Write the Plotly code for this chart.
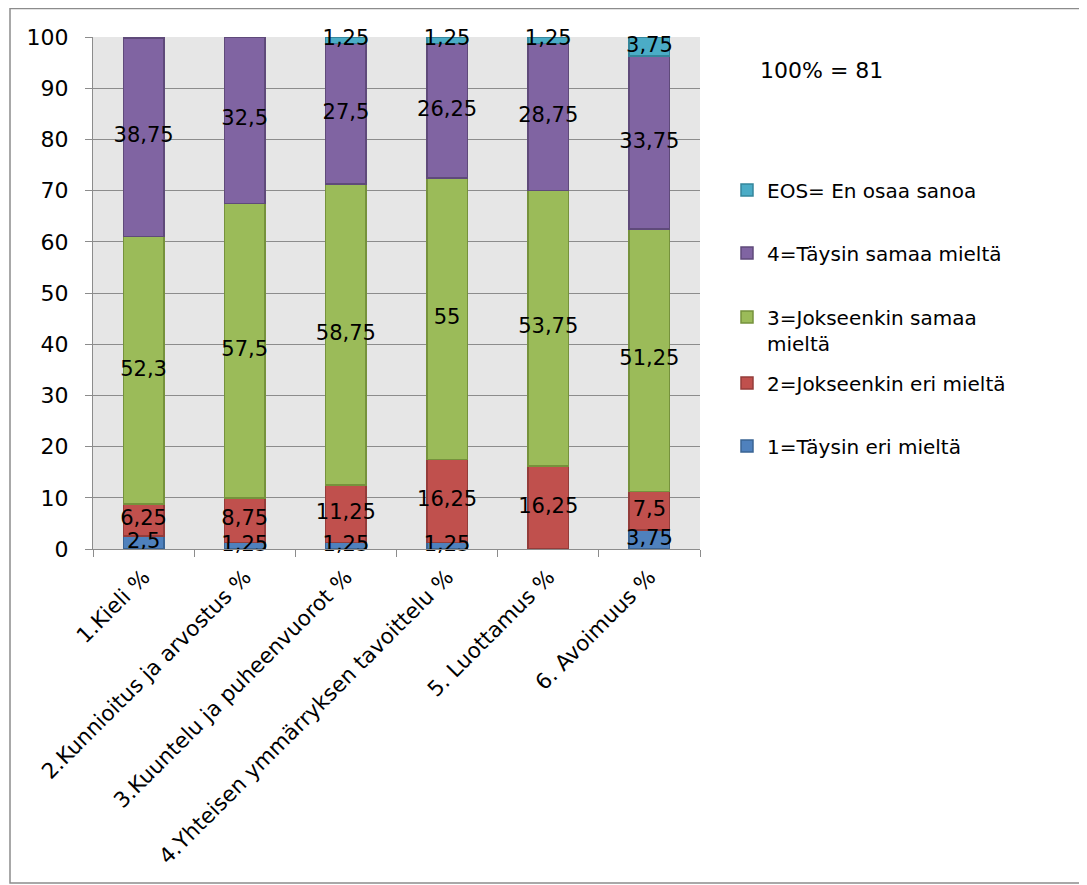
import plotly.graph_objects as go

categories = ["1.Kieli %", "2.Kunnioitus ja arvostus %", "3.Kuuntelu ja puheenvuorot %",
              "4.Yhteisen ymmärryksen tavoittelu %", "5. Luottamus %", "6. Avoimuus %"]
s1 = [2.5, 1.25, 1.25, 1.25, 0, 3.75]
s2 = [6.25, 8.75, 11.25, 16.25, 16.25, 7.5]
s3 = [52.3, 57.5, 58.75, 55, 53.75, 51.25]
s4 = [38.75, 32.5, 27.5, 26.25, 28.75, 33.75]
s5 = [0, 0, 1.25, 1.25, 1.25, 3.75]

series_names = ["1=Täysin eri mieltä", "2=Jokseenkin eri mieltä",
                "3=Jokseenkin samaa<br>mieltä", "4=Täysin samaa mieltä",
                "EOS= En osaa sanoa"]
series_values = [s1, s2, s3, s4, s5]
fill_colors = ["#4F81BD", "#C0504D", "#9BBB59", "#8064A2", "#4BACC6"]
line_colors = ["#3A6494", "#943C3A", "#76923C", "#5F4A7A", "#35869C"]

FONT = "DejaVu Sans"
W, H = 1079, 877          # page body has an 8px margin
L, T, PW, PH = 85, 29, 607, 512

# legend centre positions (figure px) for each series' first text line
legend_centres = [438, 375, 322, 245, 182]
legend_valign = ["middle", "middle", "top", "middle", "middle"]

fig = go.Figure()
base = [0.0] * len(categories)
lab_x, lab_y, lab_t = [], [], []
for i, (name, vals) in enumerate(zip(series_names, series_values)):
    lname = "legend" if i == 0 else f"legend{i + 1}"
    fig.add_trace(go.Bar(
        x=categories, y=[v if v > 0 else None for v in vals], name=name,
        marker=dict(color=fill_colors[i], line=dict(color=line_colors[i], width=1.5)),
        legend=lname, hoverinfo="skip",
    ))
    fig.layout[lname] = dict(
        xref="container", yref="container",
        x=719 / W, y=1 - legend_centres[i] / H, xanchor="left", yanchor="middle",
        valign=legend_valign[i], itemwidth=30,
        font=dict(family=FONT, size=20, color="black"),
        bgcolor="rgba(0,0,0,0)",
    )
    for j, v in enumerate(vals):
        if v > 0:
            lab_x.append(categories[j])
            lab_y.append(base[j] + v / 2)
            lab_t.append(f"{v:g}".replace(".", ","))
        base[j] += v

fig.add_trace(go.Scatter(
    x=lab_x, y=lab_y, text=lab_t, mode="text",
    textfont=dict(family=FONT, size=21, color="black"),
    showlegend=False, hoverinfo="skip", cliponaxis=False,
))

fig.update_layout(
    width=W, height=H,
    barmode="stack", bargap=0.6,
    paper_bgcolor="white", plot_bgcolor="#E6E6E6",
    margin=dict(l=L, r=W - L - PW, t=T, b=H - T - PH, autoexpand=False),
    font=dict(family=FONT, size=20, color="black"),
    showlegend=True,
)
fig.update_yaxes(
    range=[0, 100], dtick=10, showgrid=True, gridcolor="#8C8C8C", gridwidth=1,
    ticks="outside", ticklen=7, tickcolor="#8C8C8C",
    showline=True, linecolor="#8C8C8C", linewidth=1,
    tickfont=dict(family=FONT, size=22), zeroline=False,
    ticklabelstandoff=12,
)
fig.update_xaxes(
    ticks="outside", ticklen=7, tickcolor="#8C8C8C", tickson="boundaries",
    showline=True, linecolor="#8C8C8C", linewidth=1,
    tickangle=-45, tickfont=dict(family=FONT, size=21.5),
    ticklabelstandoff=6,
)
fig.add_annotation(
    text="100% = 81", xref="paper", yref="paper",
    x=(750 - L) / PW, y=(T + PH - 62) / PH, xanchor="left", yanchor="middle",
    showarrow=False, font=dict(family=FONT, size=22),
)
fig.add_shape(
    type="rect", xref="paper", yref="paper",
    x0=(2 - L) / PW, x1=(1073 - L) / PW,
    y0=(T + PH - 875) / PH, y1=(T + PH - 0.5) / PH,
    line=dict(color="#8C8C8C", width=1.5), fillcolor="rgba(0,0,0,0)", layer="below",
)

fig.write_html("out.html")
